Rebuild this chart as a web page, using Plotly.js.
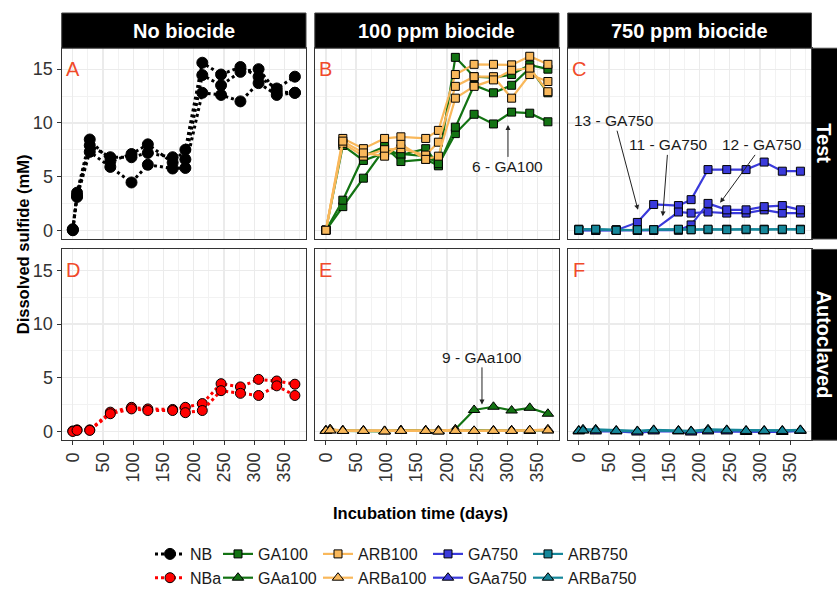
<!DOCTYPE html>
<html>
<head>
<meta charset="utf-8">
<script src="https://cdn.plot.ly/plotly-3.0.1.min.js"></script>
<style>html,body{margin:0;padding:0;background:#fff}#chart{width:837px;height:595px}</style>
</head>
<body>
<div id="chart"></div>
<script>
// ---------------- DATA ----------------
const daysAll  = [0, 7, 28, 62, 97, 124, 165, 186, 214, 245, 277, 307, 337, 367];
const daysTest = [0, 28, 62, 97, 124, 165, 186, 214, 245, 277, 307, 337, 367];

// Panel A: NB (no biocide, test)
const NB_1 = [0.0, 3.5, 8.45, 6.4, 7.1, 8.0, 6.3, 7.5, 15.6, 14.5, 15.2, 14.3, 13.2, 14.3];
const NB_2 = [0.1, 3.2, 7.9, 6.8, 6.8, 7.2, 6.8, 6.6, 14.45, 13.5, 14.75, 15.0, 12.9, 12.8];
const NB_3 = [0.05, 3.1, 7.3, 5.9, 4.45, 6.1, 5.75, 5.8, 12.8, 12.6, 12.0, 13.7, 12.6, 12.8];

// Panel B: GA100 / ARB100
const GA100_1 = [0, 2.2, 4.85, 7.6, 7.0, 7.6, 6.1, 9.0, 10.8, 9.9, 11.0, 10.9, 10.1];
const GA100_2 = [0, 2.8, 6.9, 7.8, 6.4, 6.6, 6.0, 9.6, 13.5, 12.8, 13.5, 15.1, 12.8];
const GA100_3 = [0, 7.9, 6.5, 7.2, 7.1, 6.9, 6.2, 16.1, 14.3, 14.2, 14.5, 15.4, 15.0];
const ARB100_1 = [0, 8.55, 7.6, 8.55, 8.7, 8.55, 9.3, 14.5, 15.45, 15.45, 15.4, 16.2, 15.45];
const ARB100_2 = [0, 8.1, 6.9, 7.5, 7.6, 7.0, 8.2, 13.4, 14.3, 14.3, 12.3, 14.5, 13.85];
const ARB100_3 = [0, 8.3, 7.2, 6.9, 8.0, 6.6, 6.9, 12.3, 13.4, 14.0, 14.9, 15.1, 12.9];

// Panel C: GA750 / ARB750
const GA750_13 = [0, 0, 0, 0.73, 2.4, 2.3, 2.85, 5.65, 5.65, 5.65, 6.35, 5.5, 5.5];
const GA750_11 = [0, 0, 0, 0, 0, 1.7, 1.6, 1.7, 1.6, 1.6, 1.9, 1.6, 1.6];
const GA750_12 = [0, 0, 0, 0, 0, 0, 0.5, 2.5, 1.9, 1.9, 2.2, 2.3, 1.9];
const ARB750_1 = [0.1, 0.05, 0.05, 0.0, 0.05, 0.05, 0.05, 0.05, 0.1, 0.05, 0.1, 0.05, 0.1];
const ARB750_2 = [0.05, 0.1, 0.0, 0.05, 0.05, 0.1, 0.05, 0.1, 0.05, 0.1, 0.05, 0.1, 0.05];

// Panel D: NBa
const NBa_1 = [0.05, 0.15, 0.15, 1.8, 2.25, 2.1, 2.05, 2.25, 2.6, 4.45, 4.15, 4.85, 4.7, 4.4];
const NBa_2 = [0.0, 0.1, 0.1, 1.65, 2.1, 1.95, 1.95, 1.75, 1.95, 3.8, 3.55, 3.35, 4.25, 3.35];

// Panel E: GAa100 / ARBa100
const GAa100_9 = [0.1, 0.2, 0.05, 0.05, 0.0, 0.1, 0.05, 0.0, 0.2, 2.0, 2.3, 1.95, 2.2, 1.65];
const GAa100_2 = [0.05, 0.1, 0.1, 0.05, 0.05, 0.1, 0.1, 0.05, 0.05, 0.05, 0.05, 0.1, 0.05, 0.1];
const ARBa100_1 = [0.1, 0.2, 0.1, 0.1, 0.05, 0.1, 0.1, 0.1, 0.15, 0.05, 0.1, 0.1, 0.1, 0.2];
const ARBa100_2 = [0.05, 0.1, 0.05, 0.05, 0.0, 0.05, 0.05, 0.0, 0.05, 0.05, 0.05, 0.05, 0.1, 0.1];

// Panel F: GAa750 / ARBa750
const GAa750_1 = [0.0, 0.1, 0.0, 0.0, -0.1, 0.0, 0.0, -0.1, 0.0, 0.0, -0.05, 0.0, -0.05, 0.05];
const ARBa750_1 = [0.1, 0.2, 0.2, 0.1, 0.05, 0.15, 0.1, 0.05, 0.2, 0.15, 0.1, 0.1, 0.1, 0.15];
const ARBa750_2 = [0.05, 0.1, 0.1, 0.05, 0.0, 0.1, 0.05, 0.0, 0.1, 0.1, 0.05, 0.05, 0.05, 0.1];

// Labels
const colTitles = ["No biocide", "100 ppm biocide", "750 ppm biocide"];
const rowTitles = ["Test", "Autoclaved"];
const panelLetters = ["A", "B", "C", "D", "E", "F"];
const xTickVals = [0, 50, 100, 150, 200, 250, 300, 350];
const yTickVals = [0, 5, 10, 15];

// ---------------- STYLE ----------------
const FONT = "Liberation Sans, Arial, sans-serif";
const W = 837, H = 595;
const C = {
  NB: "#000000", NBa: "#FF0000",
  GA100: "#137313", ARB100: "#F9B85B",
  GA750: "#3A3ADB", ARB750: "#16879A"
};
const xd = [[61.7, 306], [314.8, 559], [567.7, 811.5]].map(a => [a[0] / W, a[1] / W]);
const yd = [[49.3, 244.3], [255, 450]].map(a => [1 - a[1] / H, 1 - a[0] / H]);

const traces = [];
function add(axis, x, y, name, color, symbol, msize, dash, lw, legend, show, mcolor) {
  traces.push({
    type: "scatter", mode: "lines+markers",
    x: x, y: y, name: name, legendgroup: name,
    xaxis: "x" + (axis === 1 ? "" : axis), yaxis: "y" + (axis === 1 ? "" : axis),
    line: {color: color, width: lw, dash: dash},
    marker: {symbol: symbol, size: msize, color: mcolor || color, line: {color: "#000", width: 1}},
    showlegend: show, legend: legend
  });
}
// A
add(1, daysAll, NB_1, "NB", C.NB, "circle", 11, "dot", 3, "legend", true);
add(1, daysAll, NB_2, "NB", C.NB, "circle", 11, "dot", 3, "legend", false);
add(1, daysAll, NB_3, "NB", C.NB, "circle", 11, "dot", 3, "legend", false);
// B
add(2, daysTest, GA100_1, "GA100", C.GA100, "square", 8, "solid", 2.2, "legend2", true);
add(2, daysTest, GA100_2, "GA100", C.GA100, "square", 8, "solid", 2.2, "legend2", false);
add(2, daysTest, GA100_3, "GA100", C.GA100, "square", 8, "solid", 2.2, "legend2", false);
add(2, daysTest, ARB100_1, "ARB100", C.ARB100, "square", 8, "solid", 2.2, "legend3", true);
add(2, daysTest, ARB100_2, "ARB100", C.ARB100, "square", 8, "solid", 2.2, "legend3", false);
add(2, daysTest, ARB100_3, "ARB100", C.ARB100, "square", 8, "solid", 2.2, "legend3", false);
// C
add(3, daysTest, GA750_13, "GA750", C.GA750, "square", 8, "solid", 2.2, "legend4", true);
add(3, daysTest, GA750_11, "GA750", C.GA750, "square", 8, "solid", 2.2, "legend4", false);
add(3, daysTest, GA750_12, "GA750", C.GA750, "square", 8, "solid", 2.2, "legend4", false);
add(3, daysTest, ARB750_1, "ARB750", C.ARB750, "square", 8, "solid", 2.2, "legend5", true);
add(3, daysTest, ARB750_2, "ARB750", C.ARB750, "square", 8, "solid", 2.2, "legend5", false);
// D
add(4, daysAll, NBa_1, "NBa", C.NBa, "circle", 10, "dot", 3, "legend", true);
add(4, daysAll, NBa_2, "NBa", C.NBa, "circle", 10, "dot", 3, "legend", false);
// E
add(5, daysAll, GAa100_9, "GAa100", C.GA100, "triangle-up", 10, "solid", 2.2, "legend2", true);
add(5, daysAll, GAa100_2, "GAa100", C.GA100, "triangle-up", 10, "solid", 2.2, "legend2", false);
add(5, daysAll, ARBa100_1, "ARBa100", C.ARB100, "triangle-up", 10, "solid", 2.2, "legend3", true);
add(5, daysAll, ARBa100_2, "ARBa100", C.ARB100, "triangle-up", 10, "solid", 2.2, "legend3", false);
// F
add(6, daysAll, GAa750_1, "GAa750", C.GA750, "triangle-up", 10, "solid", 2.2, "legend4", true);
add(6, daysAll, ARBa750_1, "ARBa750", C.ARB750, "triangle-up", 10, "solid", 2.2, "legend5", true);
add(6, daysAll, ARBa750_2, "ARBa750", C.ARB750, "triangle-up", 10, "solid", 2.2, "legend5", false);

// ---------------- LAYOUT ----------------
const layout = {
  width: W, height: H,
  margin: {l: 0, r: 0, t: 0, b: 0},
  paper_bgcolor: "#fff", plot_bgcolor: "#fff",
  font: {family: FONT, color: "#1a1a1a", size: 16},
  shapes: [], annotations: []
};
for (let i = 0; i < 6; i++) {
  const r = Math.floor(i / 3), c = i % 3;
  const id = i === 0 ? "" : String(i + 1);
  layout["xaxis" + id] = {
    domain: xd[c], anchor: "y" + id, range: [-18.35, 385.35],
    tickmode: "array", tickvals: xTickVals, ticktext: xTickVals.map(String),
    showgrid: true, gridcolor: "#EBEBEB", gridwidth: 1.3,
    minor: {dtick: 25, tick0: 0, showgrid: true, gridcolor: "#F2F2F2", gridwidth: 1},
    zeroline: false, showline: true, mirror: true, linecolor: "#333", linewidth: 1.2,
    ticks: r === 1 ? "outside" : "", ticklen: 4, tickcolor: "#333",
    showticklabels: r === 1, tickangle: -90,
    tickfont: {size: 18, color: "#333", family: FONT}
  };
  layout["yaxis" + id] = {
    domain: yd[r], anchor: "x" + id, range: [-0.81, 16.95],
    tickmode: "array", tickvals: yTickVals, ticktext: yTickVals.map(String),
    showgrid: true, gridcolor: "#EBEBEB", gridwidth: 1.3,
    minor: {dtick: 2.5, tick0: 0, showgrid: true, gridcolor: "#F2F2F2", gridwidth: 1},
    zeroline: false, showline: true, mirror: true, linecolor: "#333", linewidth: 1.2,
    ticks: c === 0 ? "outside" : "", ticklen: 4, tickcolor: "#333",
    showticklabels: c === 0,
    tickfont: {size: 18, color: "#333", family: FONT}
  };
  layout.annotations.push({
    xref: "x" + id, yref: "y" + id, x: 0, y: 15, text: panelLetters[i],
    showarrow: false, xanchor: "center", yanchor: "middle",
    font: {size: 20, color: "#F04A2A", family: FONT}
  });
}
// strips
const stripTop = [1 - 49.3 / H, 1 - 13.3 / H];
colTitles.forEach((t, c) => {
  layout.shapes.push({type: "rect", xref: "paper", yref: "paper", x0: xd[c][0], x1: xd[c][1],
    y0: stripTop[0], y1: stripTop[1], fillcolor: "#000", line: {color: "#444", width: 1}});
  layout.annotations.push({xref: "paper", yref: "paper", x: (xd[c][0] + xd[c][1]) / 2,
    y: (stripTop[0] + stripTop[1]) / 2, text: "<b>" + t + "</b>", showarrow: false,
    xanchor: "center", yanchor: "middle", font: {size: 20, color: "#fff", family: FONT}});
});
rowTitles.forEach((t, r) => {
  layout.shapes.push({type: "rect", xref: "paper", yref: "paper", x0: xd[2][1], x1: 1.01,
    y0: yd[r][0], y1: yd[r][1], fillcolor: "#000", line: {color: "#444", width: 1}});
  layout.annotations.push({xref: "paper", yref: "paper", x: (xd[2][1] + 1) / 2,
    y: (yd[r][0] + yd[r][1]) / 2, text: "<b>" + t + "</b>", showarrow: false, textangle: 90,
    xanchor: "center", yanchor: "middle", font: {size: 20, color: "#fff", family: FONT}});
});
// axis titles
layout.annotations.push({xref: "paper", yref: "paper", x: 420.5 / W, y: 1 - 524 / H,
  text: "<b>Incubation time (days)</b>", showarrow: false, xanchor: "center", yanchor: "middle",
  font: {size: 16.5, color: "#000", family: FONT}});
layout.annotations.push({xref: "paper", yref: "paper", x: 23 / W, y: 1 - 249.7 / H,
  text: "<b>Dissolved sulfide (mM)</b>", showarrow: false, textangle: -90, xanchor: "center", yanchor: "middle",
  font: {size: 16.5, color: "#000", family: FONT}});
// callouts
function callout(ax, text, tx, ty, hx, hy) {
  layout.annotations.push({xref: "x" + ax, yref: "y" + ax, axref: "x" + ax, ayref: "y" + ax,
    x: hx, y: hy, ax: tx, ay: ty, text: text, showarrow: true,
    arrowhead: 2, arrowsize: 1, arrowwidth: 1, arrowcolor: "#222",
    font: {size: 15.5, color: "#1a1a1a", family: FONT}});
}
callout(2, "6 - GA100", 301, 5.9, 301, 9.8);
callout(5, "9 - GAa100", 258, 6.9, 258, 2.5);
callout(3, "13 - GA750", 59, 10.2, 98, 1.9);
callout(3, "11 - GA750", 148, 7.95, 139, 1.3);
callout(3, "12 - GA750", 304, 7.95, 234, 2.55);

// legends (one per column, two rows)
const legLefts = [150, 218, 318, 428, 528];
["legend", "legend2", "legend3", "legend4", "legend5"].forEach((k, i) => {
  layout[k] = {x: legLefts[i] / W, xanchor: "left", y: 1 - 549 / H, yanchor: "top",
    orientation: "v", bgcolor: "rgba(0,0,0,0)", borderwidth: 0, itemwidth: 30,
    font: {size: 16, color: "#1a1a1a", family: FONT}, traceorder: "normal"};
});

Plotly.newPlot("chart", traces, layout, {staticPlot: true, displayModeBar: false});
</script>
</body>
</html>
